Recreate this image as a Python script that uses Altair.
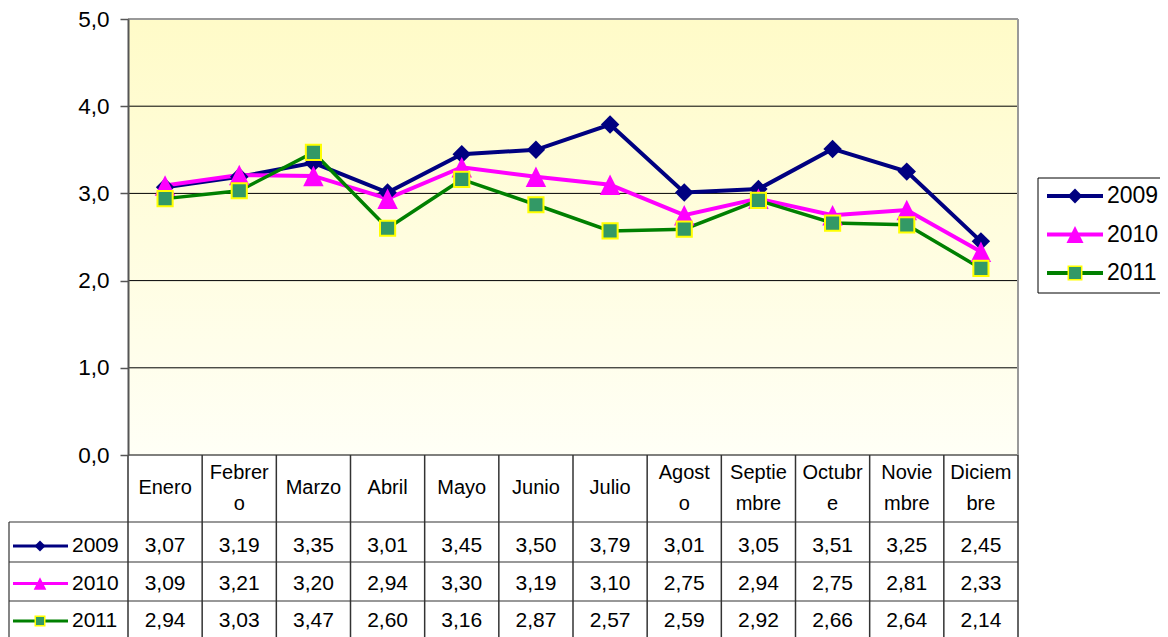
import altair as alt
import pandas as pd

months = ["Enero", "Febrero", "Marzo", "Abril", "Mayo", "Junio", "Julio",
          "Agosto", "Septiembre", "Octubre", "Noviembre", "Diciembre"]
header_labels = ["Enero", "Febrer\no", "Marzo", "Abril", "Mayo", "Junio", "Julio",
                 "Agost\no", "Septie\nmbre", "Octubr\ne", "Novie\nmbre", "Diciem\nbre"]
years = ["2009", "2010", "2011"]
v2009 = [3.07, 3.19, 3.35, 3.01, 3.45, 3.50, 3.79, 3.01, 3.05, 3.51, 3.25, 2.45]
v2010 = [3.09, 3.21, 3.20, 2.94, 3.30, 3.19, 3.10, 2.75, 2.94, 2.75, 2.81, 2.33]
v2011 = [2.94, 3.03, 3.47, 2.60, 3.16, 2.87, 2.57, 2.59, 2.92, 2.66, 2.64, 2.14]
y_ticks = [0, 1, 2, 3, 4, 5]

series = {"2009": v2009, "2010": v2010, "2011": v2011}
rows = []
for y in years:
    for i, (m, v) in enumerate(zip(months, series[y])):
        rows.append({"month": m, "idx": i + 0.5, "year": y, "value": v,
                     "label": f"{v:.2f}".replace(".", ",")})
df = pd.DataFrame(rows)

FONT = "Liberation Sans"
W, H = 890, 436
TRI = "M0,-1L-1,1L1,1Z"
style = {
    "2009": dict(color="#000080", lw=4, shape="diamond", fill="#000080", stroke="#000080", sw=0,
                 size=340, lsize=220, tsize=120),
    "2010": dict(color="#FF00FF", lw=4, shape=TRI, fill="#FF00FF", stroke="#FF00FF", sw=0,
                 size=420, lsize=290, tsize=160),
    "2011": dict(color="#008000", lw=3.5, shape="square", fill="#339966", stroke="#FFFF00", sw=2,
                 size=230, lsize=180, tsize=90),
}

xs = alt.Scale(domain=[0, len(months)])
ys = alt.Scale(domain=[y_ticks[0], y_ticks[-1]])

yaxis = alt.Axis(values=y_ticks, labelExpr="replace(format(datum.value, '.1f'), '.', ',')",
                 grid=False, domainColor="#555555", domainWidth=2, tickColor="#555555",
                 tickSize=8, tickWidth=1.5, labelFontSize=22.5, labelFont=FONT,
                 labelColor="black", labelPadding=11, zindex=1, title=None)

box = pd.DataFrame({"x0": [0], "x1": [len(months)], "y0": [y_ticks[0]], "y1": [y_ticks[-1]]})
bg = alt.Chart(box).mark_rect(
    color=alt.Gradient(gradient="linear",
                       stops=[alt.GradientStop(color="#FFFFF6", offset=0),
                              alt.GradientStop(color="#FFFBC8", offset=1)],
                       x1=0, x2=0, y1=1, y2=0)
).encode(x=alt.X("x0:Q", scale=xs, axis=None), x2="x1",
         y=alt.Y("y0:Q", scale=ys, axis=yaxis), y2="y1")

grid = alt.Chart(pd.DataFrame({"t": y_ticks[:-1]})).mark_rule(color="black", strokeWidth=1).encode(
    x=alt.value(0), x2=alt.value(W), y=alt.Y("t:Q", scale=ys, axis=None))
top_border = alt.Chart(pd.DataFrame({"t": y_ticks[-1:]})).mark_rule(color="#999999", strokeWidth=2).encode(
    x=alt.value(0), x2=alt.value(W), y=alt.Y("t:Q", scale=ys, axis=None))
right_border = alt.Chart(pd.DataFrame({"b": [len(months)]})).mark_rule(color="#999999", strokeWidth=2).encode(
    x=alt.X("b:Q", scale=xs, axis=None), y=alt.value(0), y2=alt.value(H))

layers = [bg, grid, top_border, right_border]

for y in years:
    s = style[y]
    d = df[df.year == y]
    layers.append(alt.Chart(d).mark_line(color=s["color"], strokeWidth=s["lw"]).encode(
        x=alt.X("idx:Q", scale=xs, axis=None), y=alt.Y("value:Q", scale=ys, axis=None)))
for y in years:
    s = style[y]
    d = df[df.year == y]
    layers.append(alt.Chart(d).mark_point(shape=s["shape"], filled=True, fill=s["fill"], stroke=s["stroke"],
                                          strokeWidth=s["sw"], size=s["size"], opacity=1).encode(
        x=alt.X("idx:Q", scale=xs, axis=None), y=alt.Y("value:Q", scale=ys, axis=None)))

# ---- data table ----
row_scale = alt.Scale(type="point", domain=years, range=[527, 602], padding=0)
vlines = alt.Chart(pd.DataFrame({"b": list(range(len(months) + 1))})).mark_rule(
    color="#333333", strokeWidth=1.5).encode(
    x=alt.X("b:Q", scale=xs, axis=None), y=alt.value(H), y2=alt.value(H + 210))
hlines = alt.Chart(pd.DataFrame({"py": [H + 67, H + 107, H + 146]})).mark_rule(
    color="#333333", strokeWidth=1.2).encode(
    y=alt.Y("py:Q", scale=None, axis=None), x=alt.value(-119), x2=alt.value(W))
lborder = alt.Chart(pd.DataFrame({"py": [H + 67]})).mark_rule(color="#333333", strokeWidth=1.2).encode(
    x=alt.value(-119), y=alt.Y("py:Q", scale=None, axis=None), y2=alt.value(H + 210))
hdf = pd.DataFrame({"idx": [i + 0.5 for i in range(len(months))], "h": header_labels})
hdf["multi"] = hdf["h"].str.contains("\n")
header1 = alt.Chart(hdf[~hdf.multi]).mark_text(
    fontSize=20, font=FONT, color="black", baseline="middle").encode(
    x=alt.X("idx:Q", scale=xs, axis=None), y=alt.value(469), text="h:N")
header2 = alt.Chart(hdf[hdf.multi]).mark_text(
    lineBreak="\n", lineHeight=31, fontSize=20, font=FONT, color="black", baseline="middle").encode(
    x=alt.X("idx:Q", scale=xs, axis=None), y=alt.value(469 - 15.5), text="h:N")
cells = alt.Chart(df).mark_text(fontSize=21, font=FONT, color="black", baseline="middle").encode(
    x=alt.X("idx:Q", scale=xs, axis=None),
    y=alt.Y("year:N", scale=row_scale, axis=None), text="label:N")
layers += [vlines, hlines, lborder, header1, header2, cells]

# ---- row keys in table and legend on the right ----
legend_scale = alt.Scale(type="point", domain=years, range=[177, 254], padding=0)
lbox = alt.Chart(pd.DataFrame({"k": [0]})).mark_rect(fill="white", stroke="black", strokeWidth=1).encode(
    x=alt.value(910), x2=alt.value(1036), y=alt.value(159), y2=alt.value(274))
layers.append(lbox)
for y in years:
    s = style[y]
    d = pd.DataFrame({"year": [y]})
    for sc, x0, x1, xm, xt, lw, msize, fs in [
        (row_scale, -115, -60, -88, -56, 3, s["tsize"], 21),
        (legend_scale, 919, 975, 947, 979, 4, s["lsize"], 23),
    ]:
        yy = alt.Y("year:N", scale=sc, axis=None)
        layers.append(alt.Chart(d).mark_rule(color=s["color"], strokeWidth=lw).encode(
            x=alt.value(x0), x2=alt.value(x1), y=yy))
        layers.append(alt.Chart(d).mark_point(shape=s["shape"], filled=True, fill=s["fill"], stroke=s["stroke"],
                                              strokeWidth=s["sw"] * 0.75, size=msize, opacity=1).encode(
            x=alt.value(xm), y=yy))
        layers.append(alt.Chart(d).mark_text(fontSize=fs, font=FONT, color="black", align="left",
                                             baseline="middle").encode(
            x=alt.value(xt), y=yy, text="year:N"))

chart = alt.layer(*layers).resolve_scale(y="independent").properties(
    width=W, height=H,
    padding={"left": 120, "top": 11, "right": 142, "bottom": 190},
    autosize=alt.AutoSizeParams(type="none"),
    background="white",
).configure_view(stroke=None)

chart.save("out.html", embed_options={"renderer": "svg", "actions": False})
